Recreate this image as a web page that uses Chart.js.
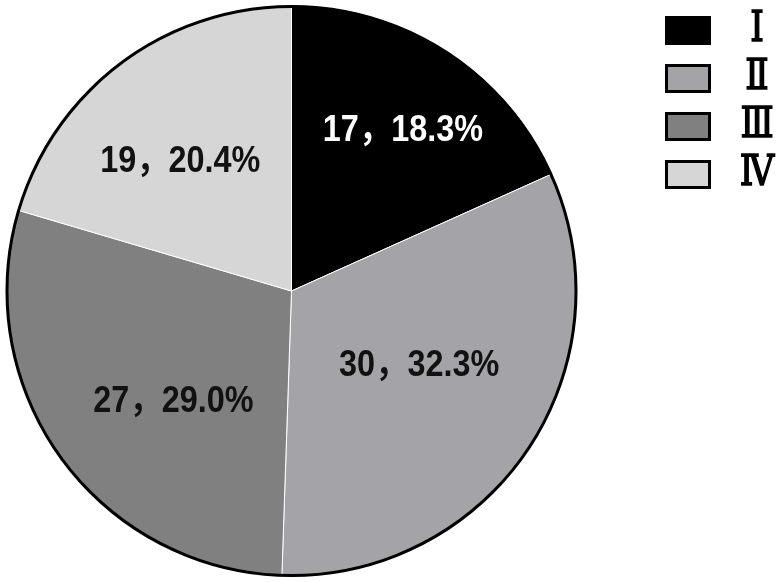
<!DOCTYPE html>
<html>
<head>
<meta charset="utf-8">
<script src="https://cdn.jsdelivr.net/npm/chart.js@4/dist/chart.umd.min.js"></script>
<style>
  html, body { margin: 0; padding: 0; background: #fff; }
  #wrap { width: 780px; height: 582px; position: relative; }
</style>
</head>
<body>
<div id="wrap"><canvas id="pieChart"></canvas></div>
<script>
// Dados
const categorias = ['Ⅰ', 'Ⅱ', 'Ⅲ', 'Ⅳ'];
const valores = [17, 30, 27, 19];
const cores = ['#000000', '#a4a4a8', '#808080', '#d6d6d6'];
const corTexto = ['#ffffff', '#111111', '#111111', '#111111'];
const distRotulo = [0.684, 0.515, 0.565, 0.598]; // posição radial dos rótulos
const desvioRotulo = [1.8, -3.9, -7.2, -3.8];     // ajuste angular (graus)

const total = valores.reduce((a, b) => a + b, 0);

// rótulos "valor，porcentagem" dentro das fatias + contorno preto
const rotulosPlugin = {
    id: 'rotulos',
    afterDatasetsDraw(chart) {
        const ctx = chart.ctx;
        const meta = chart.getDatasetMeta(0);
        const arc0 = meta.data[0];
        ctx.save();
        // contorno externo
        ctx.beginPath();
        ctx.arc(arc0.x, arc0.y, arc0.outerRadius - 1.5, 0, Math.PI * 2);
        ctx.lineWidth = 3;
        ctx.strokeStyle = '#000';
        ctx.stroke();

        ctx.font = 'bold 37px "Liberation Sans", "Noto Sans CJK SC", sans-serif';
        ctx.textAlign = 'center';
        ctx.textBaseline = 'middle';
        meta.data.forEach((arc, i) => {
            const meio = (arc.startAngle + arc.endAngle) / 2 + desvioRotulo[i] * Math.PI / 180;
            const r = arc.outerRadius * distRotulo[i];
            const x = arc.x + Math.cos(meio) * r;
            const y = arc.y + Math.sin(meio) * r;
            const pct = (valores[i] / total * 100).toFixed(1);
            ctx.save();
            ctx.translate(x, y + 1);
            ctx.scale(0.875, 1);
            ctx.fillStyle = corTexto[i];
            ctx.fillText(valores[i] + '，' + pct + '%', 0, 0);
            ctx.restore();
        });
        ctx.restore();
    }
};

// legenda à direita
const legendaPlugin = {
    id: 'legenda',
    afterDraw(chart) {
        const ctx = chart.ctx;
        ctx.save();
        categorias.forEach((c, i) => {
            const y = 16 + i * 48;
            ctx.fillStyle = cores[i];
            ctx.fillRect(666, y + 1, 44, 27);
            ctx.lineWidth = 3;
            ctx.strokeStyle = '#000';
            ctx.strokeRect(666.5, y + 1.5, 43, 26);
            ctx.save();
            ctx.translate(757, y + 14);
            ctx.scale(0.82, 1);
            ctx.fillStyle = '#000';
            ctx.strokeStyle = '#000';
            ctx.lineWidth = 1.6;
            ctx.font = '42px "Liberation Serif", "DejaVu Serif", serif';
            ctx.textAlign = 'center';
            ctx.textBaseline = 'middle';
            ctx.fillText(c, 0, 0);
            ctx.strokeText(c, 0, 0);
            ctx.restore();
        });
        ctx.restore();
    }
};

// Configurações
const config = {
    type: 'pie',
    data: {
        labels: categorias,
        datasets: [{
            data: valores,
            backgroundColor: cores,
            borderColor: '#ffffff',
            borderWidth: 1
        }]
    },
    options: {
        responsive: true,
        maintainAspectRatio: false,
        animation: false,
        layout: { padding: { left: 5, right: 202, top: 4, bottom: 4 } },
        plugins: {
            legend: { display: false },
            tooltip: { enabled: false }
        }
    },
    plugins: [rotulosPlugin, legendaPlugin]
};

// Inicialização
const ctx = document.getElementById('pieChart').getContext('2d');
const myChart = new Chart(ctx, config);
</script>
</body>
</html>
